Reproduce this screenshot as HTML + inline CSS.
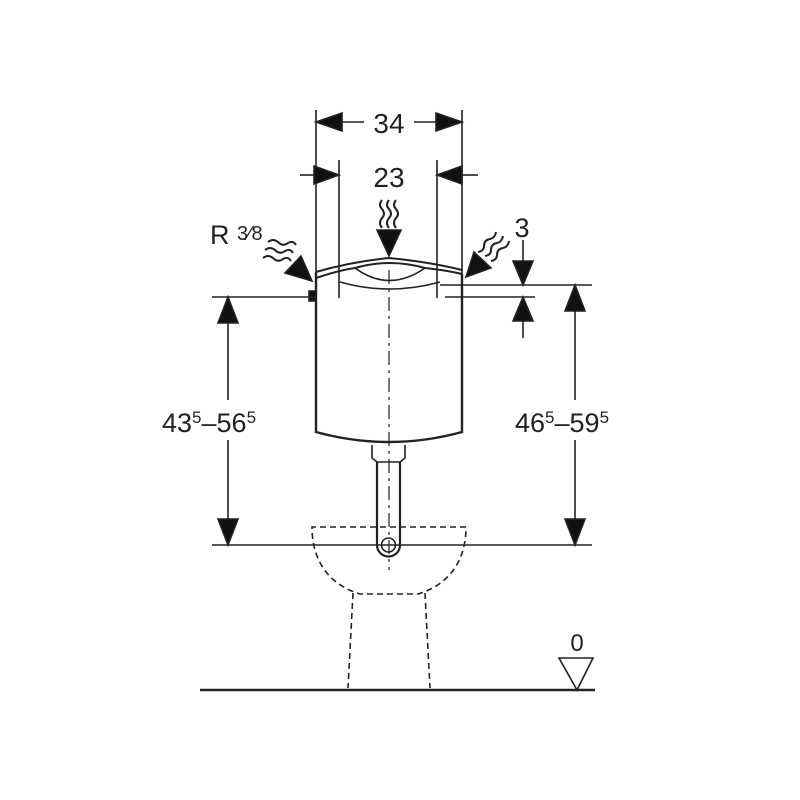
<!DOCTYPE html>
<html><head><meta charset="utf-8"><style>body{margin:0;background:#fff}svg{display:block}</style></head><body>
<svg width="800" height="800" viewBox="0 0 800 800" xmlns="http://www.w3.org/2000/svg" font-family="Liberation Sans, sans-serif" fill="none" stroke="#222">
<g stroke-width="1.6">
<!-- 34 dimension -->
<line x1="316" y1="110" x2="316" y2="296"/>
<line x1="462" y1="110" x2="462" y2="296"/>
<path d="M316,122L342,113L342,131z M462,122L436,113L436,131z" fill="#111"/>
<line x1="340" y1="122" x2="364" y2="122"/><line x1="414" y1="122" x2="438" y2="122"/>
<!-- 23 dimension -->
<line x1="339" y1="160" x2="339" y2="298"/>
<line x1="437" y1="160" x2="437" y2="298"/>
<line x1="300" y1="175" x2="316" y2="175"/><path d="M339,175L314,166L314,184z" fill="#111"/>
<line x1="462" y1="175" x2="478" y2="175"/><path d="M437,175L462,166L462,184z" fill="#111"/>
<!-- tank -->
<path d="M316,272 L316,432 Q389,452 462,432 L462,274" stroke-width="2.4"/>
<path d="M316,278 Q340,270 355,268 Q389,258 425,268 Q445,270 462,274" stroke-width="2"/>
<path d="M316,272 Q350,262 389,258 Q430,262 462,270" stroke-width="2"/>
<path d="M355,268 Q389,293 425,268"/>
<path d="M340,282 Q389,296 440,282"/>
<rect x="309" y="291" width="7" height="10" fill="#111"/>
<!-- center line -->
<line x1="389" y1="270" x2="389" y2="570" stroke-dasharray="14,5,3,5" stroke-width="1.2"/>
<!-- neck & pipe -->
<path d="M372,445 L372,458 L377,462 L400,462 L405,458 L405,445"/>
<path d="M377,462 L377,545 A11.5,11.5 0 0 0 400,545 L400,462" stroke-width="2.2"/>
<circle cx="388.5" cy="545" r="7"/>
<!-- bowl dashed -->
<g stroke-dasharray="6,4">
<path d="M466,527 L312,527 C312,562 330,585 360,594 L418,594 C448,585 466,562 466,527"/>
<path d="M353,593 L348,688 M425,593 L430,688"/>
</g>
<!-- horizontal lines -->
<line x1="212" y1="297" x2="316" y2="297"/>
<line x1="445" y1="297" x2="535" y2="297"/>
<line x1="440" y1="285" x2="592" y2="285"/>
<line x1="212" y1="545" x2="592" y2="545"/>
<line x1="200" y1="690" x2="595" y2="690" stroke-width="2.4"/>
<!-- left dim -->
<line x1="228" y1="297" x2="228" y2="400"/><line x1="228" y1="440" x2="228" y2="545"/>
<path d="M228,297L218,323L238,323z M228,545L218,519L238,519z" fill="#111"/>
<!-- right dim -->
<line x1="575" y1="285" x2="575" y2="400"/><line x1="575" y1="440" x2="575" y2="545"/>
<path d="M575,285L565,311L585,311z M575,545L565,519L585,519z" fill="#111"/>
<!-- 3 dim -->
<line x1="523" y1="240" x2="523" y2="262"/><path d="M523,285L513,261L533,261z" fill="#111"/>
<line x1="523" y1="320" x2="523" y2="338"/><path d="M523,297L513,321L533,321z" fill="#111"/>
<!-- floor marker -->
<path d="M559,658L593,658L577,690z"/>
<!-- wavy arrows -->
<g stroke-width="2">
<path d="M382,200 q-4,5 0,9 q4,5 0,9 q-4,5 0,10 M389,200 q-4,5 0,9 q4,5 0,9 q-4,5 0,10 M396,200 q-4,5 0,9 q4,5 0,9 q-4,5 0,10"/>
<path d="M265,250 q5,-4 10,0 q5,5 10,1 q5,-3 8,2 M263,258 q5,-4 10,0 q5,5 10,1 q5,-3 8,2 M268,242 q5,-4 10,0 q5,5 10,1 q5,-3 8,2"/>
<path d="M503,236 q-1,6 -6,7 q-6,1 -6,7 q0,5 -6,6 M509,241 q-1,6 -6,7 q-6,1 -6,7 q0,5 -6,6 M496,232 q-1,6 -6,7 q-6,1 -6,7 q0,5 -6,6"/>
</g>
<path d="M389,256L377,230L401,230z" fill="#111"/>
<path d="M312,281L285,273L301,256z" fill="#111"/>
<path d="M466,277L474,252L491,268z" fill="#111"/>
</g>
<g fill="#222" stroke="none" font-size="27">
<text x="389" y="133" text-anchor="middle" font-size="28">34</text>
<text x="389" y="187" text-anchor="middle" font-size="28">23</text>
<text x="210" y="244">R <tspan font-size="20" dy="-4">3⁄8</tspan></text>
<text x="522" y="237" text-anchor="middle">3</text>
<text x="577" y="651" text-anchor="middle" font-size="24">0</text>
<text x="162" y="432">43<tspan font-size="17" dy="-9">5</tspan><tspan dy="9">–56</tspan><tspan font-size="17" dy="-9">5</tspan></text>
<text x="515" y="432">46<tspan font-size="17" dy="-9">5</tspan><tspan dy="9">–59</tspan><tspan font-size="17" dy="-9">5</tspan></text>
</g>
</svg>
</body></html>
